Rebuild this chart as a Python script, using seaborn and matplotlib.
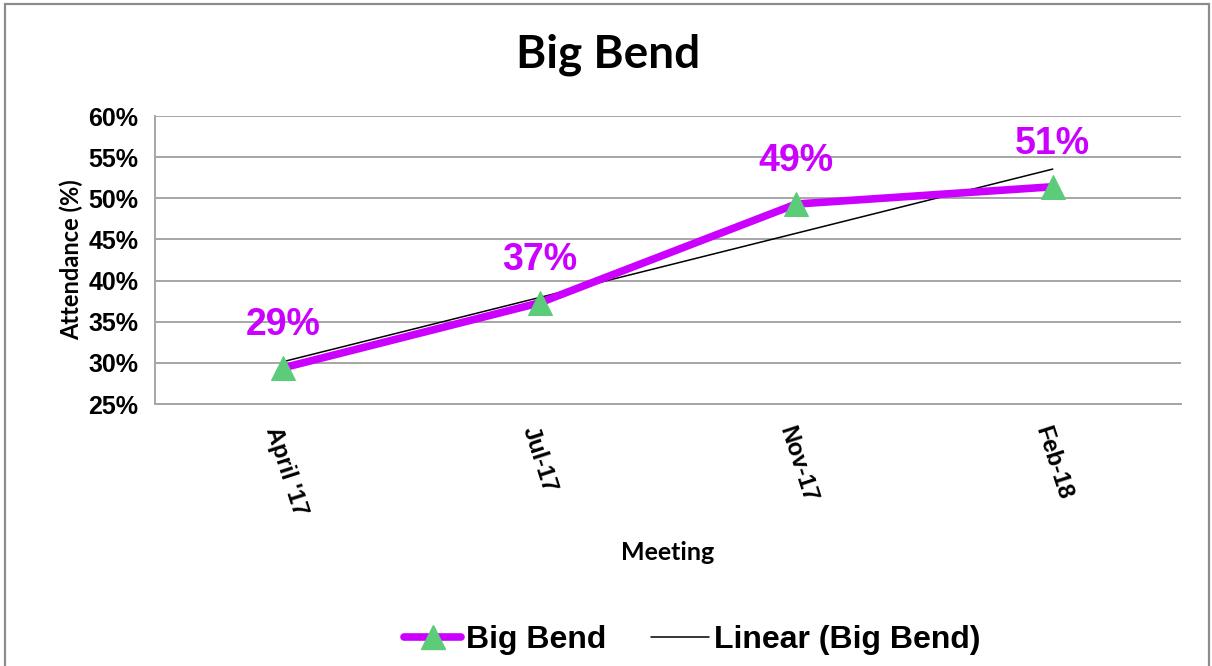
import matplotlib
matplotlib.use("Agg")
import matplotlib.pyplot as plt
from matplotlib.lines import Line2D
from matplotlib.patches import Rectangle
import numpy as np
import pandas as pd
import seaborn as sns

# Attendance per meeting (fraction of members present)
meetings = ["April '17", "Jul-17", "Nov-17", "Feb-18"]
attendance = [0.294, 0.373, 0.493, 0.514]
y_ticks = [0.25, 0.30, 0.35, 0.40, 0.45, 0.50, 0.55, 0.60]

PURPLE = "#CC00FF"
GREEN = "#5CCB7A"
GRID = "#A6A6A6"

sns.set_theme(style="white")
plt.rcParams["font.family"] = ["Liberation Sans", "DejaVu Sans"]
plt.rcParams["text.color"] = "black"
plt.rcParams["xtick.color"] = "black"
plt.rcParams["ytick.color"] = "black"
plt.rcParams["axes.labelcolor"] = "black"

df = pd.DataFrame({"pos": np.arange(len(meetings)), "meeting": meetings,
                   "attendance": attendance})

fig = plt.figure(figsize=(12.12, 6.66), dpi=100)
ax = fig.add_axes([155 / 1212, 1 - 404 / 666, (1181 - 155) / 1212, (404 - 116) / 666])

# outer chart border
fig.patches.append(Rectangle((5 / 1212, -0.05), (1209 - 5) / 1212, 1.05 - 4 / 666,
                             transform=fig.transFigure, fill=False,
                             edgecolor="#8C8C8C", linewidth=1.6, zorder=0))

# linear trend line
sns.regplot(data=df, x="pos", y="attendance", ax=ax, scatter=False, ci=None,
            truncate=True, line_kws=dict(color="black", linewidth=1.1, zorder=3))

# attendance series
sns.lineplot(data=df, x="pos", y="attendance", ax=ax, color=PURPLE, linewidth=5.5,
             marker="^", markersize=17, markerfacecolor=GREEN, markeredgecolor=GREEN,
             solid_capstyle="round", zorder=4)

# value labels
for x, v in zip(df["pos"], df["attendance"]):
    ax.annotate(f"{v * 100:.0f}%", (x, v), xytext=(0, 31), textcoords="offset points",
                ha="center", va="center", fontsize=27, fontweight="bold", color=PURPLE,
                zorder=5)

ax.set_xlim(-0.5, len(meetings) - 0.5)
ax.set_ylim(0.25, 0.60)
ax.set_yticks(y_ticks)
ax.set_yticklabels([f"{t * 100:.0f}%" for t in y_ticks], fontsize=18, fontweight="bold")
ax.yaxis.grid(True, color=GRID, linewidth=1.4)
ax.set_axisbelow(True)

# category boundaries as x ticks, labels at category centers
ax.set_xticks(np.arange(-0.5, len(meetings), 1.0))
ax.set_xticklabels([])
ax.set_xticks(np.arange(len(meetings)), minor=True)
ax.set_xticklabels(meetings, minor=True, rotation=-72, ha="left", va="top",
                   rotation_mode="anchor", fontsize=17, fontweight="bold")
ax.tick_params(axis="x", which="minor", length=0, pad=14)
ax.tick_params(axis="x", which="major", length=7, width=1.4, color=GRID, direction="out")
ax.tick_params(axis="y", length=7, width=1.4, color=GRID, labelcolor="black",
               direction="out", pad=5)

for side in ["top", "right"]:
    ax.spines[side].set_visible(False)
for side in ["left", "bottom"]:
    ax.spines[side].set_color(GRID)
    ax.spines[side].set_linewidth(1.4)

ax.set_xlabel("")
ax.set_ylabel("Attendance (%)", family=["Lato", "DejaVu Sans"], fontweight="bold",
              fontsize=17, labelpad=4)
fig.text(668 / 1212, 1 - 552 / 666, "Meeting", family=["Lato", "DejaVu Sans"],
         fontweight="bold", fontsize=18, ha="center", va="center")
fig.text(608 / 1212, 1 - 55 / 666, "Big Bend", family=["Lato", "DejaVu Sans"],
         fontweight="bold", fontsize=33, ha="center", va="center")

handles = [
    Line2D([], [], color=PURPLE, linewidth=5.5, marker="^", markersize=17,
           markerfacecolor=GREEN, markeredgecolor=GREEN, solid_capstyle="round"),
    Line2D([], [], color="black", linewidth=1.1),
]
leg = fig.legend(handles, ["Big Bend", "Linear (Big Bend)"], loc="center",
                 bbox_to_anchor=(692 / 1212, 1 - 640 / 666), ncol=2, frameon=False,
                 prop=dict(family="Liberation Sans", weight="bold", size=23),
                 handlelength=1.8, handletextpad=0.15, columnspacing=1.4)
for t in leg.get_texts():
    t.set_color("black")

fig.savefig("out.png", dpi=100)
